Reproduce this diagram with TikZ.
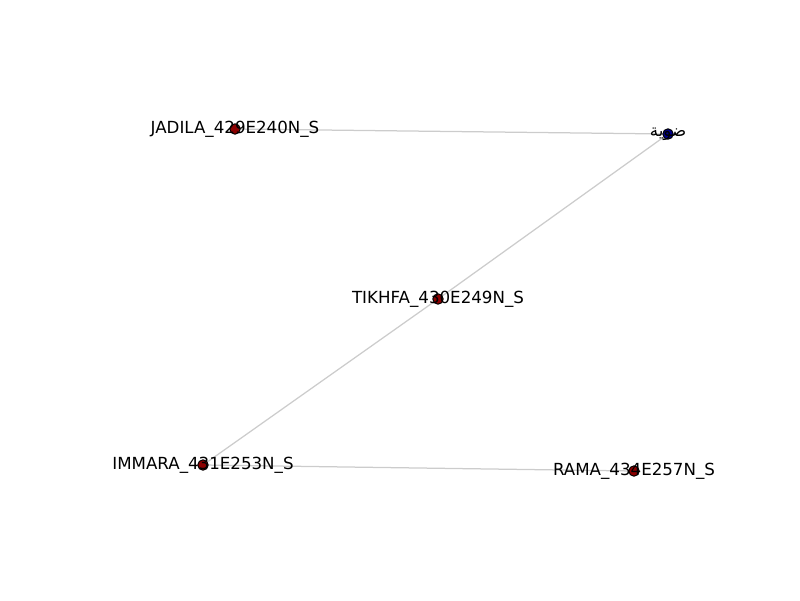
\documentclass[tikz,border=0pt]{standalone}
\usepackage{fontspec}
\setmainfont{DejaVu Sans}
\newfontfamily\arabicfont[Script=Arabic]{DejaVu Sans}
\TeXXeTstate=1
\usetikzlibrary{backgrounds}
\definecolor{edgegray}{HTML}{CCCCCC}
\definecolor{nodered}{HTML}{8B0000}
\definecolor{nodeblue}{HTML}{00008B}
\tikzset{
  dot/.style={circle,draw=black,line width=0.7pt,inner sep=0pt,minimum size=7.5pt},
  reddot/.style={dot,fill=nodered},
  bluedot/.style={dot,fill=nodeblue},
  lbl/.style={inner sep=0pt,font=\fontsize{12pt}{14pt}\selectfont,text=black},
  edge/.style={draw=edgegray,line width=0.9pt}
}
\begin{document}
\begin{tikzpicture}[x=0.72pt,y=-0.72pt]
\useasboundingbox (0,0) rectangle (800,600);
\node[reddot] (jad) at (235,129) {};
\node[bluedot] (dw) at (668,134) {};
\node[reddot] (tik) at (438,299) {};
\node[reddot] (imm) at (203,465) {};
\node[reddot] (ram) at (634,471) {};
\begin{scope}[on background layer]
\draw[edge] (jad.center) -- (dw.center);
\draw[edge] (dw.center) -- (tik.center);
\draw[edge] (tik.center) -- (imm.center);
\draw[edge] (imm.center) -- (ram.center);
\end{scope}
\node[lbl] (ljad) at (jad) {JADILA\_429E240N\_S};
\node[lbl] (ldw) at (dw) {\arabicfont\beginR ضوية\endR};
\node[lbl] (ltik) at (tik) {TIKHFA\_430E249N\_S};
\node[lbl] (limm) at (imm) {IMMARA\_431E253N\_S};
\node[lbl] (lram) at (ram) {RAMA\_434E257N\_S};
\end{tikzpicture}
\end{document}
